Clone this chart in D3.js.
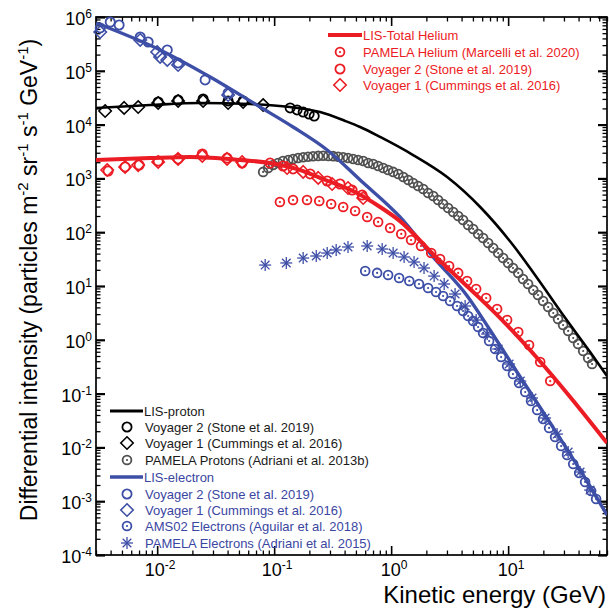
<!DOCTYPE html>
<html>
<head>
<meta charset="utf-8">
<script src="https://cdn.jsdelivr.net/npm/d3@7"></script>
<style>
  body { margin: 0; background: #fff; }
  svg { display: block; }
  text { font-family: "Liberation Sans", Arial, Helvetica, sans-serif; }
</style>
</head>
<body>
<svg id="chart" width="609" height="613"></svg>
<script>
// ---- Local interstellar spectra (kinetic energy in GeV, intensity in particles m^-2 sr^-1 s^-1 GeV^-1)
const protonLisE = [0.003, 0.0087, 0.0233, 0.0624, 0.137, 0.247, 0.404, 0.543, 0.805, 1.54, 3.01, 5.77, 11.0, 17.7, 29.5, 50.2, 70];
const protonLisJ = [20400, 23100, 25200, 24100, 21200, 17100, 11700, 9020, 5890, 2720, 1060, 294, 57.8, 14.1, 2.89, 0.593, 0.212];

const heliumLisE = [0.003, 0.0087, 0.0191, 0.0512, 0.0922, 0.177, 0.262, 0.510, 0.805, 1.19, 2.47, 4.73, 9.06, 17.7, 33.9, 70];
const heliumLisJ = [2200, 2390, 2500, 2200, 1930, 1370, 975, 535, 294, 161, 33.1, 8.79, 2.23, 0.459, 0.0865, 0.0121];

const electronLisE = [0.003, 0.0106, 0.0284, 0.0759, 0.145, 0.284, 0.543, 1.19, 2.28, 4.47, 7.0, 11.9, 22.9, 43.8, 70];
const electronLisJ = [7.73e5, 2.44e5, 7.67e4, 2.12e4, 9020, 3370, 933, 192, 34.6, 6.52, 1.52, 0.252, 0.0284, 0.00307, 5.54e-4];

// ---- Protons
const protonV2E = [0.0102, 0.0151, 0.0247, 0.0404, 0.0543, 0.137, 0.157, 0.177, 0.199, 0.220];
const protonV2J = [26300, 28700, 29900, 27500, 27500, 20400, 18700, 17100, 15700, 14400];
const protonV1E = [0.00359, 0.00522, 0.00688, 0.0102, 0.0151, 0.0247, 0.0404, 0.0543, 0.0805];
const protonV1J = [17900, 20400, 21200, 25200, 27500, 27500, 25200, 26300, 23100];
const pamelaProtonE = [0.0805, 0.0889, 0.0980, 0.108, 0.119, 0.132, 0.145, 0.160, 0.177, 0.195, 0.215, 0.238, 0.262, 0.290, 0.319, 0.352, 0.389, 0.428, 0.473, 0.522, 0.577, 0.636, 0.702, 0.774, 0.855, 0.942, 1.04, 1.15, 1.27, 1.40, 1.54, 1.70, 1.88, 2.07, 2.29, 2.52, 2.78, 3.07, 3.39, 3.74, 4.12, 4.55, 5.02, 5.54, 6.11, 6.75, 7.45, 8.22, 9.06, 10.0, 11.0, 12.2, 13.4, 14.8, 16.4, 18.0, 19.9, 22.0, 24.3, 26.7, 29.5, 32.6, 36.0, 39.6, 43.8, 48.3, 52.2];
const pamelaProtonJ = [1320, 1560, 1770, 1930, 2110, 2200, 2300, 2390, 2480, 2520, 2580, 2620, 2640, 2620, 2590, 2520, 2480, 2390, 2300, 2200, 2110, 1930, 1850, 1700, 1560, 1430, 1320, 1210, 1060, 933, 820, 722, 635, 535, 471, 397, 334, 282, 237, 200, 169, 136, 115, 92.7, 78.0, 63.0, 50.8, 41.0, 33.1, 26.8, 21.6, 17.5, 13.5, 10.9, 8.43, 6.81, 5.26, 4.07, 3.15, 2.44, 1.88, 1.46, 1.08, 0.836, 0.619, 0.459, 0.355];

// ---- Helium
const heliumV1E = [0.00374, 0.00532, 0.00688, 0.0102, 0.0151, 0.0243, 0.0396, 0.0532, 0.129, 0.177, 0.238, 0.313, 0.428, 0.577];
const heliumV1J = [1430, 1630, 1770, 2020, 2300, 2610, 2300, 2020, 1560, 1320, 1020, 787, 663, 432];
const heliumV2E = [0.00381, 0.00532, 0.00702, 0.0102, 0.0151, 0.0243, 0.0396, 0.0532, 0.0922, 0.119, 0.145, 0.203, 0.284, 0.366, 0.464, 0.565];
const heliumV2J = [1370, 1630, 1770, 2100, 2300, 2840, 2390, 1930, 1930, 1700, 1500, 1210, 895, 787, 608, 491];
const pamelaHeliumE = [0.112, 0.145, 0.191, 0.243, 0.307, 0.389, 0.492, 0.624, 0.774, 0.980, 1.22, 1.48, 1.80, 2.20, 2.62, 3.13, 3.74, 4.46, 5.33, 6.49, 8.05, 9.80, 12.2, 15.1, 18.8, 22.9];
const pamelaHeliumJ = [364, 397, 397, 380, 334, 294, 248, 192, 155, 120, 92.7, 71.6, 55.4, 41.0, 31.8, 23.5, 17.5, 12.4, 8.79, 5.98, 3.73, 2.33, 1.40, 0.80, 0.386, 0.171];

// ---- Electrons
const electronV2E = [0.00326, 0.00397, 0.00473, 0.00716, 0.00838, 0.0122, 0.0151, 0.0257, 0.0404];
const electronV2J = [6.25e5, 8.07e5, 7.10e5, 4.25e5, 3.43e5, 2.44e5, 1.40e5, 6.75e4, 3.87e4];
const electronV1E = [0.00326, 0.00716, 0.0100, 0.0106, 0.0122, 0.0151, 0.0404];
const electronV1J = [5.26e5, 3.74e5, 2.24e5, 1.81e5, 1.59e5, 1.28e5, 3.55e4];
const amsElectronE = [0.600, 0.759, 0.942, 1.17, 1.43, 1.73, 2.07, 2.42, 2.78, 3.19, 3.66, 4.12, 4.55, 5.02, 5.54, 6.11, 6.88, 7.74, 8.71, 9.80, 11.0, 12.4, 14.0, 15.7, 17.7, 19.9, 22.4, 25.2, 28.4, 31.9, 36.0, 40.5, 45.5, 51.2, 56.5];
const amsElectronJ = [19.0, 17.5, 16.0, 14.1, 12.4, 10.9, 9.18, 7.73, 6.52, 5.26, 4.25, 3.43, 2.77, 2.23, 1.73, 1.34, 0.950, 0.675, 0.479, 0.326, 0.231, 0.157, 0.107, 0.0728, 0.0495, 0.0337, 0.0230, 0.0156, 0.0106, 0.00723, 0.00491, 0.00334, 0.00228, 0.00155, 0.00110];
const pamelaElectronE = [0.0838, 0.127, 0.177, 0.229, 0.284, 0.339, 0.428, 0.624, 0.838, 1.04, 1.29, 1.57, 1.91, 2.33, 2.84, 3.52, 4.29, 5.33, 6.62, 8.22, 10.2, 12.7, 16.0, 20.7, 26.2, 32.6, 41.2, 50.2];
const pamelaElectronJ = [24.5, 26.8, 33.1, 36.1, 41.0, 46.7, 53.1, 55.4, 48.7, 41.0, 34.6, 27.9, 21.6, 15.3, 10.9, 7.10, 4.25, 2.33, 1.28, 0.675, 0.355, 0.171, 0.0828, 0.0352, 0.0177, 0.00820, 0.00349, 0.00161];

// ---- Axis ticks and labels
const xMajorTicks = [0.01, 0.1, 1, 10];
const xMajorExp = ["-2", "-1", "0", "1"];
const yMajorTicks = [1e-4, 1e-3, 1e-2, 1e-1, 1, 10, 100, 1e3, 1e4, 1e5, 1e6];
const yMajorExp = ["-4", "-3", "-2", "-1", "0", "1", "2", "3", "4", "5", "6"];

// ---- Colours
const RED = "#ec1c24";
const BLUE = "#3d4ea6";
const BLUE_TXT = "#3a46a2";
const GREY = "#505050";

const svg = d3.select("#chart");
const x = d3.scaleLog().domain([0.003, 70]).range([96, 607]);
const y = d3.scaleLog().domain([1e-4, 1e6]).range([555, 17]);
const [x0, x1] = x.range();
const [y0, y1] = y.range();

svg.append("defs").append("clipPath").attr("id", "plotClip")
  .append("rect").attr("x", x0).attr("y", y1).attr("width", x1 - x0).attr("height", y0 - y1);

// ---- Ticks (inward, on all four sides)
const isDecade = v => Math.abs(Math.log10(v) - Math.round(Math.log10(v))) < 1e-6;
const xMinor = x.ticks(60).filter(v => !isDecade(v));
const yMinor = y.ticks(120).filter(v => !isDecade(v));

function tickLayer(axisGen, transform, values, size, width) {
  svg.append("g").attr("transform", transform)
    .call(axisGen.tickValues(values).tickSize(-size).tickFormat(""))
    .call(g => g.select(".domain").remove())
    .call(g => g.selectAll(".tick line").attr("stroke", "#000").attr("stroke-width", width));
}
tickLayer(d3.axisBottom(x), `translate(0,${y0})`, xMinor, 4.5, 1.3);
tickLayer(d3.axisBottom(x), `translate(0,${y0})`, xMajorTicks, 9, 1.6);
tickLayer(d3.axisTop(x), `translate(0,${y1})`, xMinor, 4.5, 1.3);
tickLayer(d3.axisTop(x), `translate(0,${y1})`, xMajorTicks, 9, 1.6);
tickLayer(d3.axisLeft(y), `translate(${x0},0)`, yMinor, 4.5, 1.3);
tickLayer(d3.axisLeft(y), `translate(${x0},0)`, yMajorTicks, 9, 2.2);
tickLayer(d3.axisRight(y), `translate(${x1},0)`, yMinor, 4.5, 1.3);
tickLayer(d3.axisRight(y), `translate(${x1},0)`, yMajorTicks, 9, 2.2);

svg.append("rect").attr("x", x0).attr("y", y1).attr("width", x1 - x0).attr("height", y0 - y1)
  .attr("fill", "none").attr("stroke", "#000").attr("stroke-width", 1.7);

// ---- Tick labels (powers of ten)
function powerLabel(sel, exp) {
  sel.append("tspan").text("10");
  sel.append("tspan").attr("dy", -7).attr("font-size", 12).text(exp);
}
xMajorTicks.forEach((v, i) => {
  svg.append("text").attr("x", x(v) + 3).attr("y", 576).attr("text-anchor", "middle")
    .attr("font-size", 18).call(powerLabel, xMajorExp[i]);
});
yMajorTicks.forEach((v, i) => {
  svg.append("text").attr("x", 92).attr("y", y(v) + 8).attr("text-anchor", "end")
    .attr("font-size", 18).call(powerLabel, yMajorExp[i]);
});

// ---- Axis titles
svg.append("text").attr("x", 606).attr("y", 603).attr("text-anchor", "end")
  .attr("font-size", 24).text("Kinetic energy (GeV)");

const yTitle = svg.append("text").attr("transform", "translate(37,280) rotate(-90)")
  .attr("text-anchor", "middle").attr("font-size", 23);
[["Differential intensity (particles m", null], ["-2", "sup"], [" sr", null], ["-1", "sup"],
 [" s", null], ["-1", "sup"], [" GeV", null], ["-1", "sup"], [")", "end"]].forEach(([t, kind]) => {
  const ts = yTitle.append("tspan").text(t);
  if (kind === "sup") ts.attr("font-size", 15).attr("dy", -9);
  else if (kind === "end" || (t.startsWith(" ") && yTitle.selectAll("tspan").size() > 1)) ts.attr("dy", 9);
});

// ---- Marker shapes
function marker(g, type, cx, cy, color) {
  const m = g.append("g").attr("transform", `translate(${cx},${cy})`)
    .attr("fill", "none").attr("stroke", color);
  if (type === "circle") {
    m.append("circle").attr("r", 4.6).attr("stroke-width", 1.8);
  } else if (type === "dot") {
    m.append("circle").attr("r", 4.4).attr("stroke-width", 1.8);
    m.append("circle").attr("r", 1.1).attr("fill", color).attr("stroke", "none");
  } else if (type === "diamond") {
    m.append("path").attr("d", "M0,-6.2L6.2,0L0,6.2L-6.2,0Z").attr("stroke-width", 1.6);
  } else if (type === "star") {
    m.attr("stroke-width", 1.3);
    [[0, -6, 0, 6], [-6, 0, 6, 0], [-4.3, -4.3, 4.3, 4.3], [-4.3, 4.3, 4.3, -4.3]].forEach(([a, b, c, d]) =>
      m.append("line").attr("x1", a).attr("y1", b).attr("x2", c).attr("y2", d));
  }
}
function series(E, J, type, color) {
  const g = svg.append("g");
  E.forEach((e, i) => marker(g, type, x(e), y(J[i]), color));
}
const lineGen = d3.line().x(d => x(d[0])).y(d => y(d[1])).curve(d3.curveMonotoneX);
function lis(E, J, color, width) {
  svg.append("path").datum(E.map((e, i) => [e, J[i]]))
    .attr("clip-path", "url(#plotClip)")
    .attr("d", lineGen).attr("fill", "none").attr("stroke", color)
    .attr("stroke-width", width).attr("stroke-linejoin", "round");
}

// ---- Plot
series(pamelaProtonE, pamelaProtonJ, "dot", GREY);
series(protonV1E, protonV1J, "diamond", "#000");
series(protonV2E, protonV2J, "circle", "#000");
lis(protonLisE, protonLisJ, "#000", 2.6);

series(amsElectronE, amsElectronJ, "dot", BLUE);
series(pamelaElectronE, pamelaElectronJ, "star", BLUE);
series(electronV1E, electronV1J, "diamond", BLUE);
series(electronV2E, electronV2J, "circle", BLUE);
lis(electronLisE, electronLisJ, BLUE, 3.4);

series(heliumV1E, heliumV1J, "diamond", RED);
series(heliumV2E, heliumV2J, "circle", RED);
series(pamelaHeliumE, pamelaHeliumJ, "dot", RED);
lis(heliumLisE, heliumLisJ, RED, 4);

// ---- Legends
function legendLine(xa, xb, yy, color, width, label, txtColor) {
  svg.append("line").attr("x1", xa).attr("x2", xb).attr("y1", yy).attr("y2", yy)
    .attr("stroke", color).attr("stroke-width", width);
  svg.append("text").attr("x", xb + 1).attr("y", yy + 4.6).attr("font-size", 13)
    .attr("fill", txtColor).text(label);
}
function legendMarker(mx, tx, yy, type, color, label, txtColor) {
  marker(svg, type, mx, yy, color);
  svg.append("text").attr("x", tx).attr("y", yy + 4.6).attr("font-size", 13)
    .attr("fill", txtColor).text(label);
}

legendLine(328, 362, 35, RED, 4, "LIS-Total Helium", RED);
legendMarker(340, 363, 52, "dot", RED, "PAMELA Helium (Marcelli et al. 2020)", RED);
legendMarker(340, 363, 69, "circle", RED, "Voyager 2 (Stone et al. 2019)", RED);
legendMarker(340, 363, 85, "diamond", RED, "Voyager 1 (Cummings et al. 2016)", RED);

legendLine(110, 143, 411, "#000", 3, "LIS-proton", "#1a1a1a");
legendMarker(127, 145, 427, "circle", "#000", "Voyager 2 (Stone et al. 2019)", "#1a1a1a");
legendMarker(127, 145, 443, "diamond", "#000", "Voyager 1 (Cummings et al. 2016)", "#1a1a1a");
legendMarker(127, 145, 460, "dot", GREY, "PAMELA Protons (Adriani et al. 2013b)", "#1a1a1a");
legendLine(110, 143, 477, BLUE, 3.4, "LIS-electron", BLUE_TXT);
legendMarker(127, 145, 494, "circle", BLUE, "Voyager 2 (Stone et al. 2019)", BLUE_TXT);
legendMarker(127, 145, 510, "diamond", BLUE, "Voyager 1 (Cummings et al. 2016)", BLUE_TXT);
legendMarker(127, 145, 526, "dot", BLUE, "AMS02 Electrons (Aguilar et al. 2018)", BLUE_TXT);
legendMarker(127, 145, 543, "star", BLUE, "PAMELA Electrons (Adriani et al. 2015)", BLUE_TXT);
</script>
</body>
</html>
